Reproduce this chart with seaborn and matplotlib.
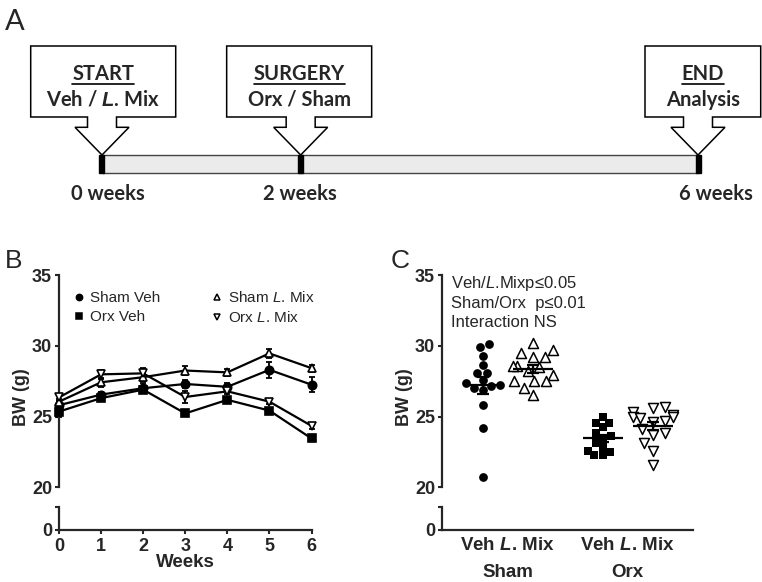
import numpy as np
import pandas as pd
import matplotlib
matplotlib.use("Agg")
import matplotlib.pyplot as plt
from matplotlib.lines import Line2D
from matplotlib.patches import Polygon, Rectangle
import seaborn as sns

# -----------------------------
# DATA
# -----------------------------

# panel A - study timeline
milestone_weeks = [0, 2, 6]
milestone_titles = ["START", "SURGERY", "END"]
milestone_subs = [r"Veh / $\mathbfit{L}$. Mix", "Orx / Sham", "Analysis"]
milestone_labels = ["0 weeks", "2 weeks", "6 weeks"]

# panel B - body weight over time (mean, SEM)
weeks = [0, 1, 2, 3, 4, 5, 6]
sham_veh = [25.8, 26.55, 27.0, 27.3, 27.1, 28.3, 27.25]
sham_veh_sem = [0.3, 0.2, 0.35, 0.3, 0.25, 0.55, 0.55]
orx_veh = [25.35, 26.3, 26.9, 25.22, 26.18, 25.42, 23.45]
orx_veh_sem = [0.35, 0.2, 0.25, 0.15, 0.2, 0.15, 0.15]
sham_lmix = [26.05, 27.42, 27.78, 28.25, 28.12, 29.46, 28.42]
sham_lmix_sem = [0.2, 0.3, 0.3, 0.3, 0.25, 0.3, 0.25]
orx_lmix = [26.35, 27.98, 28.05, 26.38, 26.78, 26.05, 24.34]
orx_lmix_sem = [0.25, 0.3, 0.35, 0.4, 0.2, 0.15, 0.2]

# panel C - final body weight per animal
bw_sham_veh = [29.9, 30.1, 29.3, 28.65, 28.1, 28.05, 27.35, 27.2, 27.15,
               27.55, 27.05, 26.85, 25.8, 24.2, 20.7]
bw_sham_lmix = [30.2, 29.7, 29.5, 29.2, 29.2, 28.6, 28.6, 28.5, 28.2,
                27.9, 27.5, 27.5, 27.5, 27.05, 26.5]
bw_orx_veh = [25.0, 24.55, 24.55, 24.25, 23.85, 23.6, 23.5, 23.15, 22.85,
              22.6, 22.5, 22.3, 22.25]
bw_orx_lmix = [25.7, 25.6, 25.3, 25.1, 25.0, 24.95, 24.9, 24.7, 24.6,
               24.1, 23.85, 23.7, 23.15, 22.6, 21.6]
groups = ["Sham", "Orx"]
treatments = ["Veh", r"$\mathbfit{L}$. Mix"]
stats_lines = [r"Veh/$\mathit{L}$.Mixp≤0.05", "Sham/Orx  p≤0.01", "Interaction NS"]

# -----------------------------
# STYLE
# -----------------------------

sns.set_style("ticks")
plt.rcParams["font.family"] = ["Liberation Sans", "DejaVu Sans"]
plt.rcParams["mathtext.fontset"] = "custom"
plt.rcParams["mathtext.rm"] = "Liberation Sans"
plt.rcParams["mathtext.it"] = "Liberation Sans:italic"
plt.rcParams["mathtext.bf"] = "Liberation Sans:bold"
plt.rcParams["mathtext.bfit"] = "Liberation Sans:italic:bold"
plt.rcParams["axes.linewidth"] = 1.6

W, H = 762, 582
fig = plt.figure(figsize=(W / 100, H / 100), dpi=100)


def px_rect(left, top, right, bottom):
    return [left / W, 1 - bottom / H, (right - left) / W, (bottom - top) / H]


TICK_FS = 13
# -----------------------------
# PANEL A - TIMELINE
# -----------------------------

A_H = 215
ax_a = fig.add_axes([0, 1 - A_H / H, 1, A_H / H])
x0_px, x6_px = 102, 698
PXW = (x6_px - x0_px) / 6.0
ax_a.set_xlim(-x0_px / PXW, (W - x0_px) / PXW)
ax_a.set_ylim(A_H, 0)
ax_a.axis("off")

bar_top, bar_bot = 155, 173.3
ax_a.add_patch(Rectangle((milestone_weeks[0], bar_top), milestone_weeks[-1] - milestone_weeks[0],
                         bar_bot - bar_top, facecolor="#ebebeb", edgecolor="#444444", lw=1))

box_edges = [(-71.3, 73.7), (-74, 71), (-53, 62.7)]
label_shift = [5.5, -1, 17.5]
box_top, box_bot, stem_bot = 46, 117, 127.3
stem_hw, wing_hw = 14.5, 27

afont = dict(family=["Lato", "DejaVu Sans"], weight="bold", fontsize=14.5)
title_texts = []
for wk, title, sub, lab, (bl, br), sh in zip(milestone_weeks, milestone_titles, milestone_subs,
                                               milestone_labels, box_edges, label_shift):
    ax_a.add_patch(Rectangle((wk - 2.5 / PXW, bar_top), 5 / PXW, bar_bot - bar_top,
                             color="black", zorder=3))
    pts = [(bl, box_top), (br, box_top), (br, box_bot), (stem_hw, box_bot), (stem_hw, stem_bot),
           (wing_hw, stem_bot), (0, bar_top), (-wing_hw, stem_bot), (-stem_hw, stem_bot),
           (-stem_hw, box_bot), (bl, box_bot)]
    pts = [(wk + px / PXW, py) for px, py in pts]
    ax_a.add_patch(Polygon(pts, closed=True, facecolor="white", edgecolor="black", lw=1.1))
    cx = wk + (bl + br) / 2 / PXW
    t = ax_a.text(cx, 79.5, title, ha="center", va="baseline", **afont)
    title_texts.append(t)
    ax_a.text(cx, 106, sub, ha="center", va="baseline", **afont)
    ax_a.text(wk + sh / PXW, 200, lab, ha="center", va="baseline", **afont)

fig.text(5 / W, 1 - 30 / H, "A", fontsize=21, family=["Lato", "DejaVu Sans"], va="baseline")

# underline the box titles
fig.canvas.draw()
inv = ax_a.transData.inverted()
for t in title_texts:
    bb = t.get_window_extent()
    xl = inv.transform((bb.x0, 0))[0]
    xr = inv.transform((bb.x1, 0))[0]
    ax_a.plot([xl, xr], [83.5, 83.5], color="black", lw=1.2)

# -----------------------------
# PANEL B - LINE PLOT
# -----------------------------

ax_b = fig.add_axes(px_rect(59, 275, 311.5, 487.3))
ax_b2 = fig.add_axes(px_rect(59, 506.7, 311.5, 530))

series = [
    (sham_veh, sham_veh_sem, "o", "black", "Sham Veh"),
    (orx_veh, orx_veh_sem, "s", "black", "Orx Veh"),
    (sham_lmix, sham_lmix_sem, "^", "white", r"Sham $\mathit{L}$. Mix"),
    (orx_lmix, orx_lmix_sem, "v", "white", r"Orx $\mathit{L}$. Mix"),
]
handles = []
for vals, sem, mk, fc, name in series:
    ax_b.errorbar(weeks, vals, yerr=sem, fmt="none", ecolor="black", elinewidth=1.3,
                  capsize=2.5, capthick=1.3, clip_on=False, zorder=2)
    sns.lineplot(x=weeks, y=vals, ax=ax_b, color="black", linewidth=1.6, marker=mk,
                 markersize=6, markerfacecolor=fc, markeredgecolor="black",
                 markeredgewidth=1.2, clip_on=False, zorder=3)
    handles.append(Line2D([], [], ls="none", marker=mk, color="black", markerfacecolor=fc,
                          markeredgecolor="black", markersize=4.5, markeredgewidth=1.1, label=name))

ax_b.set_xlim(0, 6)
ax_b.set_ylim(20, 35)
ax_b.set_yticks([20, 25, 30, 35])
ax_b.set_xticks([])
sns.despine(ax=ax_b, bottom=True)
ax_b.legend(handles=handles, ncol=2, loc="upper left", bbox_to_anchor=(0.06, 0.93),
            frameon=False, fontsize=11, handlelength=0.6, handletextpad=0.45,
            columnspacing=3.4, labelspacing=0.35, borderpad=0, borderaxespad=0)

ax_b2.set_xlim(0, 6)
ax_b2.set_ylim(0, 1)
ax_b2.set_yticks([0, 1])
ax_b2.set_yticklabels(["0", ""])
ax_b2.set_xticks(weeks)
sns.despine(ax=ax_b2)
ax_b2.set_xlabel("Weeks", fontsize=13.5, fontweight="bold", labelpad=-1)

for a in (ax_b, ax_b2):
    a.tick_params(axis="both", direction="out", length=3, width=1.5, pad=2,
                  labelsize=TICK_FS)
    for lab in a.get_xticklabels() + a.get_yticklabels():
        lab.set_fontweight("bold")
    a.set_ylabel("")
ax_b2.tick_params(axis="x", pad=3)

fig.text(22 / W, 1 - 397 / H, "BW (g)", rotation=90, fontsize=13, fontweight="bold",
         ha="center", va="center")
fig.text(5 / W, 1 - 268 / H, "B", fontsize=19, va="baseline")

# -----------------------------
# PANEL C - SCATTER DOT PLOT
# -----------------------------

ax_c = fig.add_axes(px_rect(442, 275, 692.7, 487.3))
ax_c2 = fig.add_axes(px_rect(442, 506.7, 692.7, 530))

GROUP_STEP = 2.4
dot_sets = [
    (bw_sham_veh, "o", "black", 6.3),
    (bw_sham_lmix, "^", "white", 7.2),
    (bw_orx_veh, "s", "black", 5.6),
    (bw_orx_lmix, "v", "white", 7.2),
]
positions = []
for gi in range(len(groups)):
    for ti in range(len(treatments)):
        positions.append(gi * GROUP_STEP + ti)

for (vals, mk, fc, sz), p in zip(dot_sets, positions):
    df = pd.DataFrame({"x": [p] * len(vals), "bw": vals})
    lw = 1.1 if fc == "white" else 0
    sns.swarmplot(data=df, x="x", y="bw", native_scale=True, orient="x", ax=ax_c,
                  marker=mk, color=fc, edgecolor="black", linewidth=lw, size=sz, zorder=3)
    m = np.mean(vals)
    se = np.std(vals, ddof=1) / np.sqrt(len(vals))
    ax_c.hlines(m, p - 0.4, p + 0.4, color="black", lw=1.6, zorder=5)
    ax_c.errorbar([p], [m], yerr=[se], fmt="none", ecolor="black", elinewidth=1.6,
                  capsize=4, capthick=1.6, zorder=5)

xl = (-0.81, 4.2)
ax_c.set_xlim(*xl)
ax_c.set_ylim(20, 35)
ax_c.set_yticks([20, 25, 30, 35])
ax_c.set_xticks([])
ax_c.set_xlabel("")
ax_c.set_ylabel("")
sns.despine(ax=ax_c, bottom=True)

for i, s in enumerate(stats_lines):
    ax_c.text(0.036, 0.962 - i * 0.094, s, transform=ax_c.transAxes, fontsize=12,
              va="center", ha="left")

centers = [np.mean(positions[gi * 2:gi * 2 + 2]) for gi in range(len(groups))]
ax_c2.set_xlim(*xl)
ax_c2.set_ylim(0, 1)
ax_c2.set_yticks([0, 1])
ax_c2.set_yticklabels(["0", ""])
ax_c2.set_xticks(centers)
ax_c2.set_xticklabels([" ".join(treatments)] * len(groups))
sns.despine(ax=ax_c2)
for c, g in zip(centers, groups):
    ax_c2.annotate(g, xy=(c, 0), xycoords=("data", "axes fraction"), xytext=(0, -30.5),
                   textcoords="offset points", ha="center", va="center",
                   fontsize=13.5, fontweight="bold")

for a in (ax_c, ax_c2):
    a.tick_params(axis="both", direction="out", length=3, width=1.5, pad=2,
                  labelsize=TICK_FS)
    for lab in a.get_xticklabels() + a.get_yticklabels():
        lab.set_fontweight("bold")
ax_c2.tick_params(axis="x", length=0, pad=5, labelsize=13.5)

fig.text(22 / W + 383 / W, 1 - 397 / H, "BW (g)", rotation=90, fontsize=13,
         fontweight="bold", ha="center", va="center")
fig.text(391 / W, 1 - 268 / H, "C", fontsize=19, va="baseline")

fig.savefig("out.png", dpi=100)
